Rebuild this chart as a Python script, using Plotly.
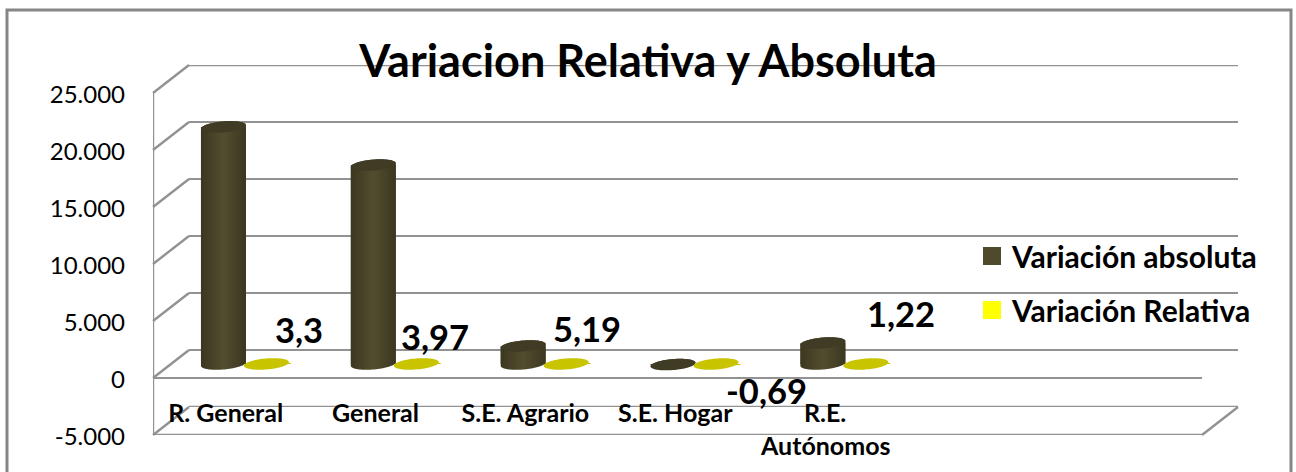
import numpy as np
import plotly.graph_objects as go

# ---------- data ----------
categories = ["R. General", "General", "S.E. Agrario", "S.E. Hogar", "R.E. Autónomos"]
variacion_absoluta = [20800, 17450, 1580, -50, 1840]
variacion_relativa = [3.3, 3.97, 5.19, -0.69, 1.22]
y_tick_values = [-5000, 0, 5000, 10000, 15000, 20000, 25000]
y_tick_labels = ["-5.000", "0", "5.000", "10.000", "15.000", "20.000", "25.000"]
series_names = ["Variación absoluta", "Variación Relativa"]
title_text = "Variacion Relativa y Absoluta"

# ---------- style / layout ----------
W, H = 1296, 472
FONT = "Lato"
GRID = "#929292"
DARK, LIGHT, CAP = "#3b3720", "#534d2f", "#403b24"
DISC, LEGEND_DARK, LEGEND_YELLOW = "#c9c400", "#4f4a2c", "#ffff00"
label_offsets = [(33, -34), (19, -27), (21, -35), (50, 26), (35, -50)]   # px, data-label shift from the disc

FX0, FX1 = 153, 1202
FY_TOP, FY_BOT = 93, 435
DX, DY = 18, 14   # offset between consecutive depth planes
N_SLOTS = 7
X_RANGE = [-0.5, N_SLOTS - 0.5]
Y_RANGE = [-5000, 25000]
BAR_W = 0.3
DISC_SHIFT = -0.013
TICK_SHIFT = -0.015
PX_Y = (FY_BOT - FY_TOP) / (Y_RANGE[1] - Y_RANGE[0])


def fx(p):
    return p / W


def fy(p):
    return 1 - p / H


def dom_x(k):
    return [fx(FX0 + k * DX), fx(FX1 + k * DX)]


def dom_y(k):
    return [fy(FY_BOT - k * DY), fy(FY_TOP - k * DY)]


def ellipse(cx, cy, t):
    """Slightly sheared ellipse, x in slots and y in value units."""
    a = BAR_W / 2
    b, k = 5.5 / PX_Y, 1.8 / PX_Y
    return cx + a * np.cos(t), cy + b * np.sin(t) + k * np.cos(t)


fig = go.Figure()

# real bars on the mid-depth plane
fig.add_trace(go.Bar(x=list(range(len(categories))), y=variacion_absoluta, width=BAR_W, offset=-BAR_W,
                     marker=dict(color=LEGEND_DARK, line_width=0), name=series_names[0],
                     showlegend=False, xaxis="x2", yaxis="y2"))
fig.add_trace(go.Bar(x=list(range(len(categories))), y=variacion_relativa, width=BAR_W, offset=0,
                     marker=dict(color=DISC, line_width=0), name=series_names[1],
                     showlegend=False, xaxis="x2", yaxis="y2"))

# cylinder shading derived from the values
for i, v in enumerate(variacion_absoluta):
    cx = i - BAR_W / 2
    lower = np.linspace(0, -np.pi, 40)
    upper = np.linspace(np.pi, 0, 40)
    xb, yb = ellipse(cx, 0, lower)
    xt, yt = ellipse(cx, v, upper)
    xs = np.concatenate([xb, xt, xb[:1]])
    ys = np.concatenate([yb, yt, yb[:1]])
    fig.add_trace(go.Scatter(x=xs, y=ys, mode="none", fill="toself", hoverinfo="skip", showlegend=False,
                             fillgradient=dict(type="horizontal",
                                               colorscale=[[0, DARK], [0.5, LIGHT], [1, DARK]]),
                             xaxis="x2", yaxis="y2"))
    t = np.linspace(0, 2 * np.pi, 80)
    xc, yc = ellipse(cx, v, t)
    fig.add_trace(go.Scatter(x=xc, y=yc, mode="none", fill="toself", fillcolor=CAP, hoverinfo="skip",
                             showlegend=False, xaxis="x2", yaxis="y2"))

# relative-variation discs
for i, v in enumerate(variacion_relativa):
    t = np.linspace(0, 2 * np.pi, 80)
    xc, yc = ellipse(i + BAR_W / 2 + DISC_SHIFT, v, t)
    fig.add_trace(go.Scatter(x=xc, y=yc, mode="none", fill="toself", fillcolor=DISC, hoverinfo="skip",
                             showlegend=False, xaxis="x2", yaxis="y2"))

# legend entries
for name, col in zip(series_names, [LEGEND_DARK, LEGEND_YELLOW]):
    fig.add_trace(go.Scatter(x=[None], y=[None], mode="markers", name=name, legendgroup=name,
                             marker=dict(symbol="square", size=16, color=col, line=dict(color=col, width=2)),
                             xaxis="x2", yaxis="y2"))

# data labels
annotations = []
for i, (v, (sx, sy)) in enumerate(zip(variacion_relativa, label_offsets)):
    annotations.append(dict(x=i + BAR_W / 2 + DISC_SHIFT, y=v, xref="x2", yref="y2", text=f"{v}".replace(".", ","),
                            showarrow=False, xshift=sx, yshift=-sy,
                            font=dict(family=FONT, size=34.5, color="black", weight=700)))

# second line of the last category label
first_lines = [c if i < 4 else c.split(" ")[0] for i, c in enumerate(categories)]
annotations.append(dict(x=4 + TICK_SHIFT, y=fy(445), xref="x3", yref="paper", yanchor="middle",
                        text=categories[4].split(" ")[1], showarrow=False,
                        font=dict(family=FONT, size=25, color="black", weight=700)))

# side wall diagonals and the frame
shapes = []
for v in y_tick_values:
    y0 = FY_BOT - (v - Y_RANGE[0]) * PX_Y
    shapes.append(dict(type="line", xref="paper", yref="paper", x0=fx(FX0), y0=fy(y0), x1=fx(FX0 + 2 * DX), y1=fy(y0 - 2 * DY),
                       line=dict(color=GRID, width=2.4), layer="below"))
shapes.append(dict(type="line", xref="paper", yref="paper", x0=fx(FX1), y0=fy(FY_BOT), x1=fx(FX1 + 2 * DX), y1=fy(FY_BOT - 2 * DY),
                   line=dict(color=GRID, width=2.4), layer="below"))
shapes.append(dict(type="path", xref="paper", yref="paper",
                   path=f"M {fx(7)} 0 L {fx(7)} {fy(10)} L {fx(1291)} {fy(10)} L {fx(1291)} 0",
                   line=dict(color="#868686", width=3), layer="below"))
# range-edge gridlines of the back plane, which the axis does not draw itself
for v in (Y_RANGE[0], Y_RANGE[1]):
    shapes.append(dict(type="line", xref="x", yref="y", x0=X_RANGE[0], x1=X_RANGE[1], y0=v, y1=v,
                       line=dict(color=GRID, width=2.4), layer="below"))

hidden_x = dict(range=X_RANGE, showgrid=False, zeroline=False, showticklabels=False, ticks="", showline=False,
                fixedrange=True, automargin=False)
fig.update_layout(
    width=W, height=H, margin=dict(l=0, r=0, t=0, b=0, pad=0), autosize=False,
    paper_bgcolor="white", plot_bgcolor="rgba(0,0,0,0)", barmode="overlay",
    font=dict(family=FONT, color="black"),
    title=dict(text=title_text, x=648 / W, y=fy(61), xanchor="center", yanchor="middle", xref="paper", yref="paper",
               automargin=False, font=dict(family=FONT, size=45, color="black", weight=700)),
    # back plane: gridlines
    xaxis=dict(domain=dom_x(2), anchor="y", **hidden_x),
    yaxis=dict(domain=dom_y(2), anchor="x", range=Y_RANGE, tickvals=y_tick_values, showgrid=True, gridcolor=GRID,
               gridwidth=2.4, zeroline=False, showticklabels=False, ticks="", showline=False, fixedrange=True, automargin=False),
    # mid plane: marks
    xaxis2=dict(domain=dom_x(1), anchor="y2", **hidden_x),
    yaxis2=dict(domain=dom_y(1), anchor="x2", range=Y_RANGE, showgrid=False, zeroline=False, showticklabels=False,
                ticks="", showline=False, fixedrange=True, automargin=False),
    # front plane: axes
    xaxis3=dict(domain=dom_x(0), anchor="free", position=fy(396), range=X_RANGE, showgrid=False, zeroline=False,
                showline=False, ticks="", tickmode="array", tickvals=[i + TICK_SHIFT for i in range(len(first_lines))],
                ticktext=first_lines, tickangle=0, fixedrange=True, automargin=False,
                tickfont=dict(family=FONT, size=25, color="black", weight=700)),
    yaxis3=dict(domain=dom_y(0), anchor="x3", range=Y_RANGE, tickmode="array", tickvals=y_tick_values, ticktext=y_tick_labels,
                showgrid=False, zeroline=True, zerolinecolor=GRID, zerolinewidth=2.4, showline=False,
                ticks="", ticklabelstandoff=27, ticklabelshift=2, fixedrange=True, automargin=False,
                tickfont=dict(family=FONT, size=24, color="black")),
    legend=dict(x=fx(972), y=fy(230), xanchor="left", yanchor="top", tracegroupgap=12, itemwidth=30,
                bgcolor="rgba(0,0,0,0)", font=dict(family=FONT, size=30, color="black", weight=700)),
    annotations=annotations, shapes=shapes,
)
# invisible traces so the back and front axes are drawn; front-plane lines
fig.add_trace(go.Scatter(x=[None], y=[None], showlegend=False, xaxis="x3", yaxis="y3"))
fig.add_trace(go.Scatter(x=[None], y=[None], showlegend=False, xaxis="x", yaxis="y"))
fig.add_shape(type="line", xref="x3", yref="y3", x0=X_RANGE[0], x1=X_RANGE[1], y0=Y_RANGE[0], y1=Y_RANGE[0],
              line=dict(color=GRID, width=2.4), layer="below")
fig.add_shape(type="line", xref="x3", yref="y3", x0=X_RANGE[0], x1=X_RANGE[0], y0=Y_RANGE[0], y1=Y_RANGE[1],
              line=dict(color=GRID, width=2.4), layer="below")

fig.write_html("out.html", config={"displayModeBar": False}, post_script="document.body.style.margin='0';")
